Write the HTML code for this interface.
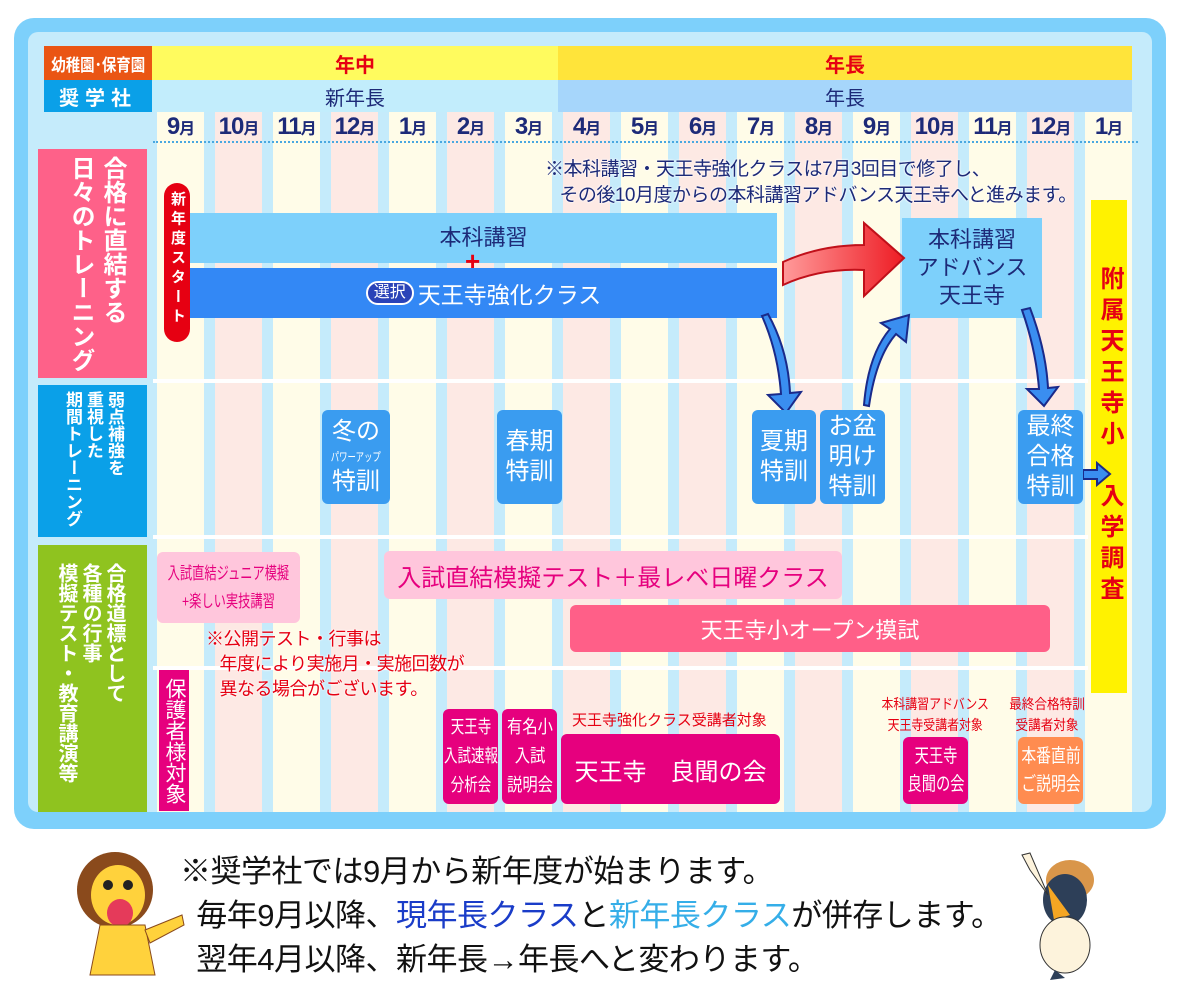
<!DOCTYPE html>
<html><head><meta charset="utf-8"><style>
*{margin:0;padding:0;box-sizing:border-box}
body{width:1183px;height:1000px;background:#fff;position:relative;overflow:hidden;font-family:"Liberation Sans","Noto Sans CJK JP",sans-serif}
.a{position:absolute}
.col{position:absolute;top:112px;height:700px;width:47px}
.c{background:#fffce8}.p{background:#fde9e4}
.m{position:absolute;top:113px;width:47px;text-align:center;font-weight:bold;font-size:24px;color:#1d2a78;letter-spacing:-1px}
.m small{font-size:16px}
.v{writing-mode:vertical-rl;position:absolute;font-weight:bold;color:#fff;white-space:nowrap}
.box{position:absolute;display:flex;align-items:center;justify-content:center;text-align:center;white-space:nowrap}
.sk{background:#3a9cf0;border-radius:6px;color:#fff;font-size:24px;line-height:30px}
.mg{background:#e6007e;color:#fff;border-radius:6px}
.red{color:#e60012}
.sx{display:inline-block;transform:scaleX(0.78);transform-origin:center}
</style></head><body>
<div class="a" style="left:14px;top:18px;width:1152px;height:811px;background:#7dd0fb;border-radius:20px"></div>
<div class="a" style="left:28px;top:32px;width:1124px;height:780px;background:#c5ebfb;border-radius:10px"></div>

<div class="col c" style="left:157px"></div><div class="col p" style="left:215px"></div>
<div class="col c" style="left:273px"></div><div class="col p" style="left:331px"></div>
<div class="col c" style="left:389px"></div><div class="col p" style="left:447px"></div>
<div class="col c" style="left:505px"></div><div class="col p" style="left:563px"></div>
<div class="col c" style="left:621px"></div><div class="col p" style="left:679px"></div>
<div class="col c" style="left:737px"></div><div class="col p" style="left:795px"></div>
<div class="col c" style="left:853px"></div><div class="col p" style="left:911px"></div>
<div class="col c" style="left:969px"></div><div class="col p" style="left:1027px"></div>
<div class="col c" style="left:1085px"></div>

<div class="m" style="left:157px">9<small>月</small></div><div class="m" style="left:215px">10<small>月</small></div>
<div class="m" style="left:273px">11<small>月</small></div><div class="m" style="left:331px">12<small>月</small></div>
<div class="m" style="left:389px">1<small>月</small></div><div class="m" style="left:447px">2<small>月</small></div>
<div class="m" style="left:505px">3<small>月</small></div><div class="m" style="left:563px">4<small>月</small></div>
<div class="m" style="left:621px">5<small>月</small></div><div class="m" style="left:679px">6<small>月</small></div>
<div class="m" style="left:737px">7<small>月</small></div><div class="m" style="left:795px">8<small>月</small></div>
<div class="m" style="left:853px">9<small>月</small></div><div class="m" style="left:911px">10<small>月</small></div>
<div class="m" style="left:969px">11<small>月</small></div><div class="m" style="left:1027px">12<small>月</small></div>
<div class="m" style="left:1085px">1<small>月</small></div>
<div class="a" style="left:153px;top:141px;width:985px;border-top:2px dotted #4aa8e0"></div>

<div class="a" style="left:153px;top:379px;width:935px;height:4px;background:#fff"></div>
<div class="a" style="left:153px;top:535px;width:935px;height:4px;background:#fff"></div>
<div class="a" style="left:153px;top:666px;width:935px;height:4px;background:#fff"></div>

<div class="box" style="left:44px;top:46px;width:108px;height:34px;background:#ea5514;color:#fff;font-size:17px;font-weight:bold"><span class="sx" style="transform:scaleX(0.85)">幼稚園･保育園</span></div>
<div class="box" style="left:44px;top:80px;width:108px;height:32px;background:#0aa0e8;color:#fff;font-size:20px;font-weight:bold;letter-spacing:6px">奨学社</div>
<div class="box red" style="left:152px;top:46px;width:406px;height:34px;background:#fffb5e;font-size:20px;font-weight:bold">年中</div>
<div class="box red" style="left:558px;top:46px;width:574px;height:34px;background:#ffe43a;font-size:20px;font-weight:bold">年長</div>
<div class="box" style="left:152px;top:80px;width:406px;height:32px;background:#c2edfc;color:#1d2a78;font-size:20px">新年長</div>
<div class="box" style="left:558px;top:80px;width:574px;height:32px;background:#a6d6fb;color:#1d2a78;font-size:20px">年長</div>

<div class="a" style="left:38px;top:149px;width:109px;height:229px;background:#fe6189"></div>
<div class="v" style="left:98px;top:156px;font-size:24px;line-height:28px">合格に直結する</div>
<div class="v" style="left:66px;top:156px;font-size:24px;line-height:28px">日々のトレーニング</div>
<div class="a" style="left:38px;top:385px;width:109px;height:152px;background:#0aa0e8"></div>
<div class="v" style="left:104px;top:391px;font-size:17px;line-height:21px">弱点補強を</div>
<div class="v" style="left:83px;top:391px;font-size:17px;line-height:21px">重視した</div>
<div class="v" style="left:62px;top:391px;font-size:17px;line-height:21px">期間トレーニング</div>
<div class="a" style="left:38px;top:545px;width:109px;height:267px;background:#8fc31f"></div>
<div class="v" style="left:102px;top:563px;font-size:20px;line-height:24px">合格道標として</div>
<div class="v" style="left:78px;top:563px;font-size:20px;line-height:24px">各種の行事</div>
<div class="v" style="left:54px;top:563px;font-size:20px;line-height:24px">模擬テスト・教育講演等</div>

<div class="a" style="left:545px;top:157px;font-size:19px;line-height:26px;letter-spacing:-0.5px;color:#1d2a78;text-shadow:0 0 2px #fff,0 0 2px #fff;white-space:nowrap">※本科講習・天王寺強化クラスは7月3回目で修了し、<br>&nbsp;&nbsp;&nbsp;その後10月度からの本科講習アドバンス天王寺へと進みます。</div>

<div class="box" style="left:190px;top:213px;width:587px;height:50px;background:#7dd0fb;color:#1d2a78;font-size:22px;padding-bottom:4px">本科講習</div>
<div class="box" style="left:190px;top:268px;width:587px;height:50px;background:#3388f5;color:#fff;font-size:23px"><span style="display:inline-block;border:2px solid #fff;background:#2a43b8;border-radius:12px;font-size:16px;padding:0 6px;line-height:20px;margin-right:4px">選択</span>天王寺強化クラス</div>
<div class="a red" style="left:465px;top:248px;font-size:26px;font-weight:bold;line-height:26px">+</div>
<div class="v box" style="left:164px;top:183px;width:26px;height:159px;background:#e60012;border-radius:13px;font-size:15px;line-height:26px;letter-spacing:4.5px;justify-content:flex-start;padding-top:8px">新年度スタート</div>
<div class="box" style="left:902px;top:218px;width:140px;height:100px;background:#7dd0fb;color:#1d2a78;font-size:22px;line-height:28px">本科講習<br>アドバンス<br>天王寺</div>
<div class="v box red" style="left:1091px;top:200px;width:36px;height:493px;background:#fff200;font-size:24px;line-height:36px;letter-spacing:7px;justify-content:flex-start;padding-top:66px">附属天王寺小　入学調査</div>

<svg class="a" style="left:0;top:0" width="1183" height="1000">
<defs><linearGradient id="rg" x1="0" x2="1"><stop offset="0" stop-color="#ff9a9a"/><stop offset="1" stop-color="#ee1c24"/></linearGradient></defs>
<path d="M783 262 Q820 245 864 245 L864 223 L904 258 L864 296 L864 270 Q820 268 783 285 Z" fill="url(#rg)" stroke="#c0101a" stroke-width="2"/>
<g fill="#3a8ef0" stroke="#1a2a8a" stroke-width="2">
<path d="M762 316 L768 314 Q788 350 790 393 L801 392 L786 413 L768 395 L781 394 Q778 352 762 316Z"/>
<path d="M864 405 L869 406 Q876 357 896 334 L906 342 L909 315 L881 323 L890 329 Q868 355 864 405Z"/>
<path d="M1022 310 L1030 308 Q1046 350 1048 388 L1058 387 L1044 406 L1027 389 L1039 389 Q1036 350 1022 310Z"/>
<path d="M1083 470 L1097 470 L1097 463 L1110 474 L1097 485 L1097 479 L1083 479Z"/>
</g>
</svg>

<div class="box sk" style="left:322px;top:410px;width:68px;height:94px;flex-direction:column"><span>冬の</span><span style="font-size:12px;line-height:20px"><span class="sx" style="transform:scaleX(0.7)">パワーアップ</span></span><span>特訓</span></div>
<div class="box sk" style="left:497px;top:410px;width:65px;height:94px">春期<br>特訓</div>
<div class="box sk" style="left:752px;top:410px;width:64px;height:94px">夏期<br>特訓</div>
<div class="box sk" style="left:820px;top:410px;width:65px;height:94px">お盆<br>明け<br>特訓</div>
<div class="box sk" style="left:1018px;top:410px;width:65px;height:94px">最終<br>合格<br>特訓</div>

<div class="box" style="left:157px;top:552px;width:143px;height:71px;background:#ffc6dc;color:#e6007e;border-radius:6px;font-size:17px;line-height:28px"><span class="sx" style="transform:scaleX(0.72)">入試直結ジュニア模擬<br>+楽しい実技講習</span></div>
<div class="box" style="left:384px;top:551px;width:458px;height:48px;background:#ffc6dc;color:#e6007e;border-radius:6px;font-size:24px">入試直結模擬テスト＋最レベ日曜クラス</div>
<div class="box" style="left:570px;top:605px;width:480px;height:47px;background:#ff5f88;color:#fff;border-radius:6px;font-size:22px">天王寺小オープン摸試</div>
<div class="a red" style="left:206px;top:627px;font-size:18px;line-height:25px;letter-spacing:-0.5px;white-space:nowrap;text-shadow:0 0 2px #fff,0 0 2px #fff">※公開テスト・行事は<br>&nbsp;&nbsp;&nbsp;年度により実施月・実施回数が<br>&nbsp;&nbsp;&nbsp;異なる場合がございます。</div>
<div class="v box" style="left:159px;top:670px;width:30px;height:141px;background:#e6007e;font-weight:normal;font-size:21px;line-height:30px">保護者様対象</div>
<div class="box mg" style="left:443px;top:709px;width:55px;height:95px;font-size:18px;line-height:29px"><span class="sx" style="transform:scaleX(0.75)">天王寺<br>入試速報<br>分析会</span></div>
<div class="box mg" style="left:502px;top:709px;width:55px;height:95px;font-size:18px;line-height:29px"><span class="sx" style="transform:scaleX(0.85)">有名小<br>入試<br>説明会</span></div>
<div class="a red" style="left:572px;top:709px;font-size:15px;white-space:nowrap">天王寺強化クラス受講者対象</div>
<div class="box mg" style="left:561px;top:734px;width:219px;height:70px;font-size:24px">天王寺　良聞の会</div>
<div class="a red" style="left:865px;top:694px;width:140px;text-align:center;font-size:14px;line-height:21px;white-space:nowrap"><span class="sx" style="transform:scaleX(0.85)">本科講習アドバンス<br>天王寺受講者対象</span></div>
<div class="box mg" style="left:903px;top:737px;width:65px;height:67px;font-size:19px;line-height:28px"><span class="sx" style="transform:scaleX(0.75)">天王寺<br>良聞の会</span></div>
<div class="a red" style="left:992px;top:694px;width:110px;text-align:center;font-size:14px;line-height:21px;white-space:nowrap"><span class="sx" style="transform:scaleX(0.9)">最終合格特訓<br>受講者対象</span></div>
<div class="box" style="left:1018px;top:737px;width:65px;height:67px;background:#ff8c50;color:#fff;border-radius:6px;font-size:19px;line-height:28px"><span class="sx" style="transform:scaleX(0.78)">本番直前<br>ご説明会</span></div>

<div class="a" style="left:180px;top:850px;font-size:31px;line-height:44px;letter-spacing:-0.5px;color:#111;white-space:nowrap">※奨学社では9月から新年度が始まります。<br>&nbsp;&nbsp;毎年9月以降、<span style="color:#1a3cc8">現年長クラス</span>と<span style="color:#35aee8">新年長クラス</span>が併存します。<br>&nbsp;&nbsp;翌年4月以降、新年長→年長へと変わります。</div>

<svg class="a" style="left:70px;top:845px" width="120" height="135">
<circle cx="45" cy="45" r="38" fill="#8a4a1c"/>
<ellipse cx="48" cy="50" rx="27" ry="30" fill="#ffd23c"/>
<ellipse cx="50" cy="68" rx="13" ry="14" fill="#e53a5a"/>
<circle cx="38" cy="40" r="5" fill="#222"/><circle cx="58" cy="40" r="5" fill="#222"/>
<path d="M30 80 L75 80 L85 130 L20 130Z" fill="#ffd23c" stroke="#8a4a1c"/>
<path d="M75 85 L112 70 L114 80 L80 98Z" fill="#ffd23c" stroke="#8a4a1c"/>
</svg>
<svg class="a" style="left:1010px;top:850px" width="100" height="130">
<ellipse cx="60" cy="30" rx="24" ry="20" fill="#d9964a"/>
<ellipse cx="55" cy="50" rx="22" ry="26" fill="#2d3f58"/>
<path d="M38 35 L60 65 L44 70Z" fill="#f5a623"/>
<ellipse cx="55" cy="95" rx="25" ry="28" fill="#fdf3dc" stroke="#333"/>
<path d="M20 20 L12 5 L20 3 L38 45Z" fill="#fdf3dc" stroke="#333"/>
<path d="M45 120 L40 130 L55 128Z" fill="#2d3f58"/>
</svg>
</body></html>
